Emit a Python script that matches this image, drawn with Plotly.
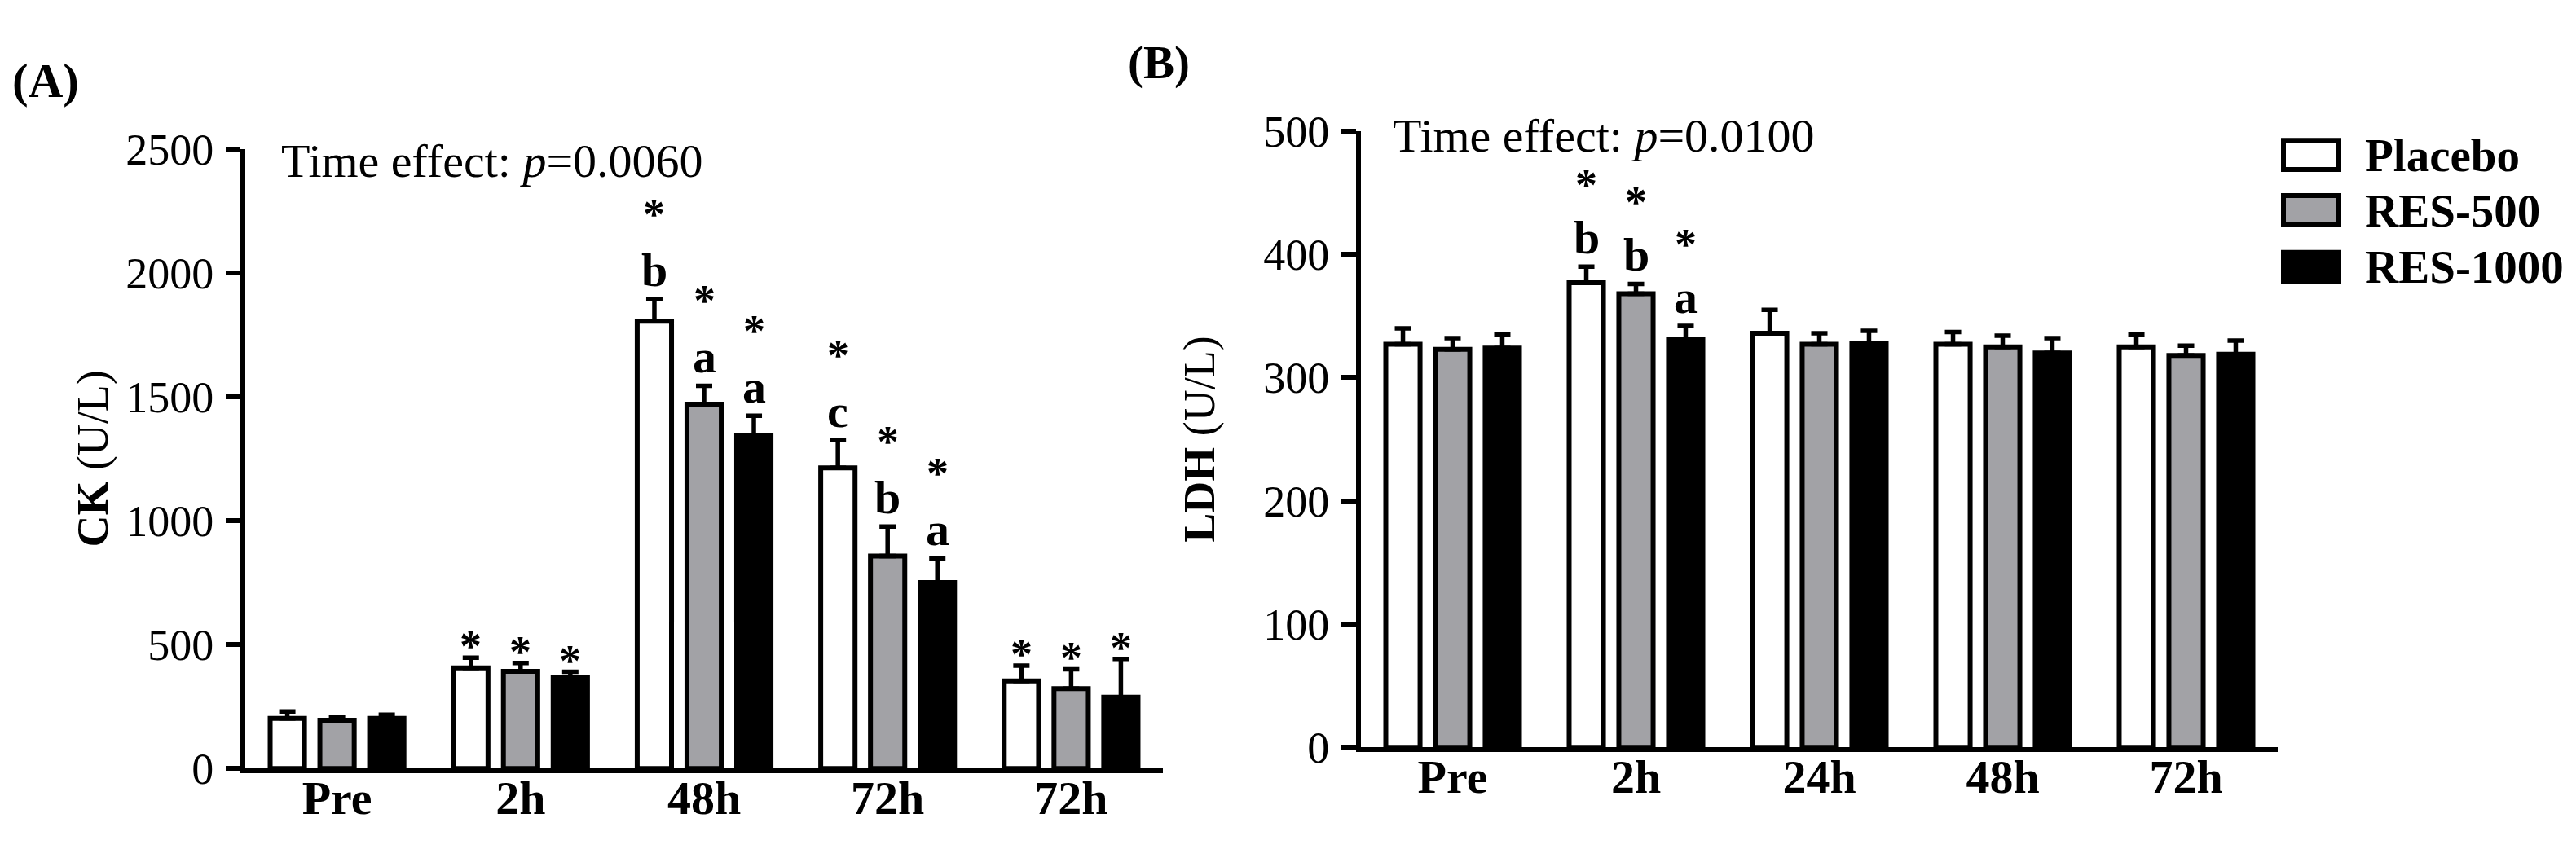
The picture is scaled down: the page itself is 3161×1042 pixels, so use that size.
import plotly.graph_objects as go

# ---------------- data ----------------
groups = ["Placebo", "RES-500", "RES-1000"]

ck_times = ["Pre", "2h", "48h", "72h", "72h"]
ck_placebo = [202, 406, 1804, 1213, 353]
ck_placebo_se = [28, 41, 89, 112, 62]
ck_res500 = [194, 392, 1470, 857, 322]
ck_res500_se = [13, 33, 74, 119, 78]
ck_res1000 = [202, 368, 1343, 750, 287]
ck_res1000_se = [15, 22, 80, 97, 155]
ck_letters_placebo = ["", "", "b", "c", ""]
ck_letters_res500 = ["", "", "a", "b", ""]
ck_letters_res1000 = ["", "", "a", "a", ""]
ck_stars_placebo = [False, True, True, True, True]
ck_stars_res500 = [False, True, True, True, True]
ck_stars_res1000 = [False, True, True, True, True]

ldh_times = ["Pre", "2h", "24h", "48h", "72h"]
ldh_placebo = [327, 377, 336, 327, 325]
ldh_placebo_se = [13, 13, 19, 10, 10]
ldh_res500 = [323, 368, 327, 325, 318]
ldh_res500_se = [9, 8, 9, 9, 8]
ldh_res1000 = [324, 331, 328, 320, 319]
ldh_res1000_se = [11, 11, 10, 12, 11]
ldh_letters_placebo = ["", "b", "", "", ""]
ldh_letters_res500 = ["", "b", "", "", ""]
ldh_letters_res1000 = ["", "a", "", "", ""]
ldh_stars_placebo = [False, True, False, False, False]
ldh_stars_res500 = [False, True, False, False, False]
ldh_stars_res1000 = [False, True, False, False, False]

ck_p_text = "Time effect: <i>p</i>=0.0060"
ldh_p_text = "Time effect: <i>p</i>=0.0100"

# ---------------- style ----------------
W, H = 3161, 1042
SERIF = "Liberation Serif"
FILLS = ["#ffffff", "#a2a2a6", "#000000"]
BARGAP = 0.187
BARGROUPGAP = 0.31
LW = 6


def fx(p):
    return p / W


def fy(p):
    return 1 - p / H


fig = go.Figure()

panels = [
    dict(xa="x", ya="y", times=ck_times, star_shift=104,
         means=[ck_placebo, ck_res500, ck_res1000],
         ses=[ck_placebo_se, ck_res500_se, ck_res1000_se],
         letters=[ck_letters_placebo, ck_letters_res500, ck_letters_res1000],
         stars=[ck_stars_placebo, ck_stars_res500, ck_stars_res1000]),
    dict(xa="x2", ya="y2", times=ldh_times, star_shift=100,
         means=[ldh_placebo, ldh_res500, ldh_res1000],
         ses=[ldh_placebo_se, ldh_res500_se, ldh_res1000_se],
         letters=[ldh_letters_placebo, ldh_letters_res500, ldh_letters_res1000],
         stars=[ldh_stars_placebo, ldh_stars_res500, ldh_stars_res1000]),
]

slot = (1 - BARGAP) / 3
annotations = []
for pnl in panels:
    xs = list(range(len(pnl["times"])))
    for j, name in enumerate(groups):
        fig.add_trace(go.Bar(
            x=xs, y=pnl["means"][j], name=name, xaxis=pnl["xa"], yaxis=pnl["ya"],
            marker=dict(color=FILLS[j], line=dict(color="black", width=LW)),
            error_y=dict(type="data", array=pnl["ses"][j], arrayminus=[0] * len(xs),
                         symmetric=False, color="black", thickness=5.5, width=10),
            showlegend=False,
        ))
        for i in xs:
            top = pnl["means"][j][i] + pnl["ses"][j][i]
            xpos = i + (j - 1) * slot
            let = pnl["letters"][j][i]
            if let:
                annotations.append(dict(
                    x=xpos, y=top, xref=pnl["xa"], yref=pnl["ya"], text=f"<b>{let}</b>",
                    showarrow=False, yanchor="bottom", yshift=1,
                    font=dict(family=SERIF, size=58, color="black")))
            if pnl["stars"][j][i]:
                annotations.append(dict(
                    x=xpos, y=top, xref=pnl["xa"], yref=pnl["ya"], text="<b>*</b>",
                    showarrow=False, yanchor="middle",
                    yshift=pnl["star_shift"] if let else 14,
                    font=dict(family=SERIF, size=54, color="black")))

# time effect texts and panel labels
annotations += [
    dict(x=fx(343), y=fy(179), xref="paper", yref="paper", text=ck_p_text,
         showarrow=False, xanchor="left", yanchor="middle",
         font=dict(family=SERIF, size=58, color="black")),
    dict(x=fx(1707), y=fy(146), xref="paper", yref="paper", text=ldh_p_text,
         showarrow=False, xanchor="left", yanchor="middle",
         font=dict(family=SERIF, size=58, color="black")),
    dict(x=fx(56), y=fy(74), xref="paper", yref="paper", text="<b>(A)</b>",
         showarrow=False, xanchor="center", yanchor="middle",
         font=dict(family=SERIF, size=59, color="black")),
    dict(x=fx(1422), y=fy(51), xref="paper", yref="paper", text="<b>(B)</b>",
         showarrow=False, xanchor="center", yanchor="middle",
         font=dict(family=SERIF, size=57, color="black")),
]

# custom legend
shapes = []
legend_rows = [171, 243, 317]
for j, name in enumerate(groups):
    cy = legend_rows[j]
    shapes.append(dict(type="rect", xref="paper", yref="paper",
                       x0=fx(2802), x1=fx(2870), y0=fy(cy + 19), y1=fy(cy - 19),
                       fillcolor=FILLS[j], line=dict(color="black", width=LW)))
    annotations.append(dict(x=fx(2900), y=fy(cy), xref="paper", yref="paper",
                            text=f"<b>{name}</b>", showarrow=False,
                            xanchor="left", yanchor="middle",
                            font=dict(family=SERIF, size=57, color="black")))

xcommon = dict(range=[-0.5, 4.5], tickmode="array", tickvals=list(range(5)),
               ticks="", showline=True, linewidth=LW, linecolor="black",
               showgrid=False, zeroline=False, fixedrange=True,
               ticklabelstandoff=-20,
               tickfont=dict(family=SERIF, size=58, color="black", weight="bold"))
ycommon = dict(ticks="outside", ticklen=18, tickwidth=LW, tickcolor="black",
               showline=True, linewidth=LW, linecolor="black",
               showgrid=False, zeroline=False, fixedrange=True,
               tickfont=dict(family=SERIF, size=54, color="black"),
               ticklabelstandoff=4)

fig.update_layout(
    width=W, height=H, autosize=False,
    margin=dict(l=0, r=0, t=0, b=0),
    paper_bgcolor="white", plot_bgcolor="white",
    barmode="group", bargap=BARGAP, bargroupgap=BARGROUPGAP,
    font=dict(family=SERIF, color="black"),
    xaxis=dict(domain=[fx(301), fx(1427)], anchor="y", ticktext=ck_times, **xcommon),
    yaxis=dict(domain=[fy(970), fy(163)], anchor="x", range=[0, 2500], dtick=500,
               title=dict(text="<b>CK</b> (U/L)", standoff=6,
                          font=dict(family=SERIF, size=54, color="black")),
               **ycommon),
    xaxis2=dict(domain=[fx(1670), fx(2795)], anchor="y2", ticktext=ldh_times, **xcommon),
    yaxis2=dict(domain=[fy(942.5), fy(140)], anchor="x2", range=[0, 500], dtick=100,
                title=dict(text="<b>LDH</b> (U/L)", standoff=44,
                           font=dict(family=SERIF, size=54, color="black")),
                **ycommon),
    annotations=annotations,
    shapes=shapes,
)

fig.write_html("out.html", config={"displayModeBar": False},
               post_script="document.body.style.margin='0';document.body.style.overflow='hidden';")
